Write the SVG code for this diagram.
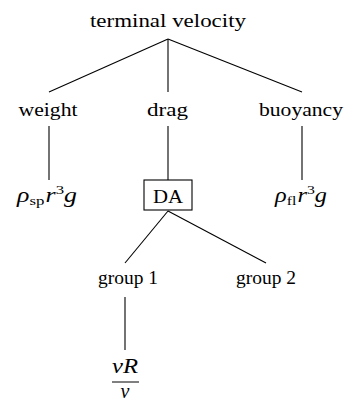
<svg xmlns="http://www.w3.org/2000/svg" width="348" height="405" viewBox="0 0 348 405">
<style>
.t{font-family:"Liberation Serif","Times New Roman",serif;font-size:18px;fill:#000;text-anchor:middle}
.m{font-family:"Liberation Serif","Times New Roman",serif;font-style:italic;font-size:20px;fill:#000}
.s{font-size:13px;font-style:normal}
.e{stroke:#000;stroke-width:1.1;fill:none}
</style>
<rect width="348" height="405" fill="#fff"/>
<g id="connectors">
<line class="e" x1="168" y1="39" x2="49" y2="92"/>
<line class="e" x1="168" y1="39" x2="168" y2="92"/>
<line class="e" x1="168" y1="39" x2="302" y2="92"/>
<line class="e" x1="49" y1="126" x2="49" y2="180"/>
<line class="e" x1="168" y1="126" x2="168" y2="180"/>
<line class="e" x1="302" y1="126" x2="302" y2="180"/>
<line class="e" x1="168" y1="211" x2="125" y2="263"/>
<line class="e" x1="168" y1="211" x2="266" y2="263"/>
<line class="e" x1="125" y1="297" x2="125" y2="350"/>
</g>
<g id="terminal-velocity"><text class="t" x="168" y="27" textLength="156" lengthAdjust="spacingAndGlyphs">terminal velocity</text></g>
<g id="weight"><text class="t" x="48" y="116" textLength="59" lengthAdjust="spacingAndGlyphs">weight</text></g>
<g id="drag"><text class="t" x="167.5" y="116" textLength="41" lengthAdjust="spacingAndGlyphs">drag</text></g>
<g id="buoyancy"><text class="t" x="301" y="116" textLength="84" lengthAdjust="spacingAndGlyphs">buoyancy</text></g>
<g id="rho-sp"><text class="m" x="17" y="202" textLength="60" lengthAdjust="spacingAndGlyphs">ρ<tspan class="s" dy="3">sp</tspan><tspan dy="-3" dx="1">r</tspan><tspan font-size="13" font-style="normal" dy="-8">3</tspan><tspan dy="8">g</tspan></text></g>
<g id="DA"><rect x="144" y="180" width="48" height="30" fill="#fff" stroke="#000" stroke-width="1.1"/><text class="t" x="168" y="203" textLength="30" lengthAdjust="spacingAndGlyphs">DA</text></g>
<g id="rho-fl"><text class="m" x="275" y="202" textLength="52" lengthAdjust="spacingAndGlyphs">ρ<tspan class="s" dy="3">fl</tspan><tspan dy="-3" dx="1">r</tspan><tspan font-size="13" font-style="normal" dy="-8">3</tspan><tspan dy="8">g</tspan></text></g>
<g id="group1"><text class="t" x="128" y="284" textLength="60" lengthAdjust="spacingAndGlyphs">group 1</text></g>
<g id="group2"><text class="t" x="266" y="284" textLength="60" lengthAdjust="spacingAndGlyphs">group 2</text></g>
<g id="fraction"><text class="m" x="125" y="373" text-anchor="middle" textLength="26" lengthAdjust="spacingAndGlyphs">vR</text><line x1="112" y1="382" x2="139" y2="382" stroke="#000" stroke-width="1"/><text class="m" x="125" y="398" text-anchor="middle">ν</text></g>
</svg>
